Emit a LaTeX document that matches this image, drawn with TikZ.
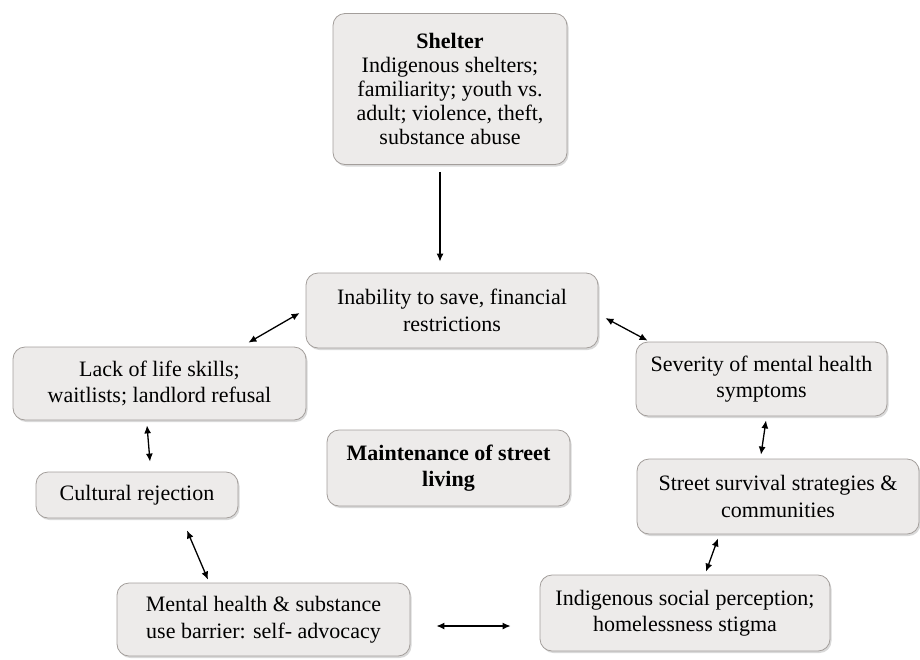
\documentclass[tikz,border=0pt]{standalone}
\usepackage{fontspec}
\setmainfont{Liberation Serif}
\usetikzlibrary{arrows.meta,shadows}
\definecolor{boxfill}{HTML}{EDEBEA}
\definecolor{boxline}{HTML}{A39E9B}
\begin{document}
\begin{tikzpicture}[x=1pt,y=-1pt,
  box/.style={draw=boxline, line width=0.8pt, fill=boxfill, rounded corners=12pt,
    align=center, inner sep=2pt, font=\fontsize{22}{26.5}\selectfont,
    drop shadow={shadow xshift=1.5pt, shadow yshift=-2pt, opacity=0.25, fill=black!60}},
  dbl/.style={{Latex[length=8pt,width=7pt]}-{Latex[length=8pt,width=7pt]}, line width=1.3pt},
  sgl/.style={-{Latex[length=8pt,width=7pt]}, line width=1.3pt}]
\useasboundingbox (0,0) rectangle (920,659);
\node[box, minimum width=234pt, minimum height=151pt, font=\fontsize{22}{24}\selectfont] (shelter) at (450,89)
  {\textbf{Shelter}\\Indigenous shelters;\\familiarity; youth vs.\\adult; violence, theft,\\substance abuse};
\node[box, minimum width=292pt, minimum height=75pt] (inab) at (452,310.5)
  {Inability to save, financial\\restrictions};
\node[box, minimum width=293pt, minimum height=73pt] (lack) at (159.5,383.5)
  {Lack of life skills;\\waitlists; landlord refusal};
\node[box, minimum width=202pt, minimum height=46pt] (cult) at (137,495)
  {Cultural rejection};
\node[box, minimum width=243pt, minimum height=76pt] (maint) at (448.5,468)
  {\textbf{Maintenance of street}\\\textbf{living}};
\node[box, minimum width=251pt, minimum height=74pt] (sev) at (761.5,379)
  {Severity of mental health\\symptoms};
\node[box, minimum width=282pt, minimum height=75pt] (street) at (778,496.5)
  {Street survival strategies \&\\communities};
\node[box, minimum width=293pt, minimum height=73pt] (mental) at (263.5,619.5)
  {Mental health \& substance\\use barrier: self- advocacy};
\node[box, minimum width=290pt, minimum height=76pt] (indig) at (685,613)
  {Indigenous social perception;\\homelessness stigma};
\draw[sgl] ([xshift=-10pt,yshift=-7pt]shelter.south) -- ([xshift=-12pt,yshift=11pt]inab.north);
\draw[dbl] ([xshift=-58pt,yshift=4pt]lack.north east) -- ([xshift=-6pt,yshift=-2.5pt]inab.west);
\draw[dbl] ([xshift=7pt,yshift=-7.5pt]inab.east) -- ([xshift=12pt,yshift=1pt]sev.north west);
\draw[dbl] ([xshift=-12.5pt,yshift=-5pt]lack.south) -- ([xshift=13pt,yshift=10pt]cult.north);
\draw[dbl] ([xshift=4.5pt,yshift=-4pt]sev.south) -- ([xshift=-17pt,yshift=4pt]street.north);
\draw[dbl] ([xshift=50pt,yshift=-12pt]cult.south) -- ([xshift=-55.5pt,yshift=3pt]mental.north);
\draw[dbl] ([xshift=-60pt,yshift=-4pt]street.south) -- ([xshift=21pt,yshift=3pt]indig.north);
\draw[dbl] ([xshift=26pt,yshift=-6.5pt]mental.east) -- ([xshift=-29pt,yshift=-13pt]indig.west);
\end{tikzpicture}
\end{document}
